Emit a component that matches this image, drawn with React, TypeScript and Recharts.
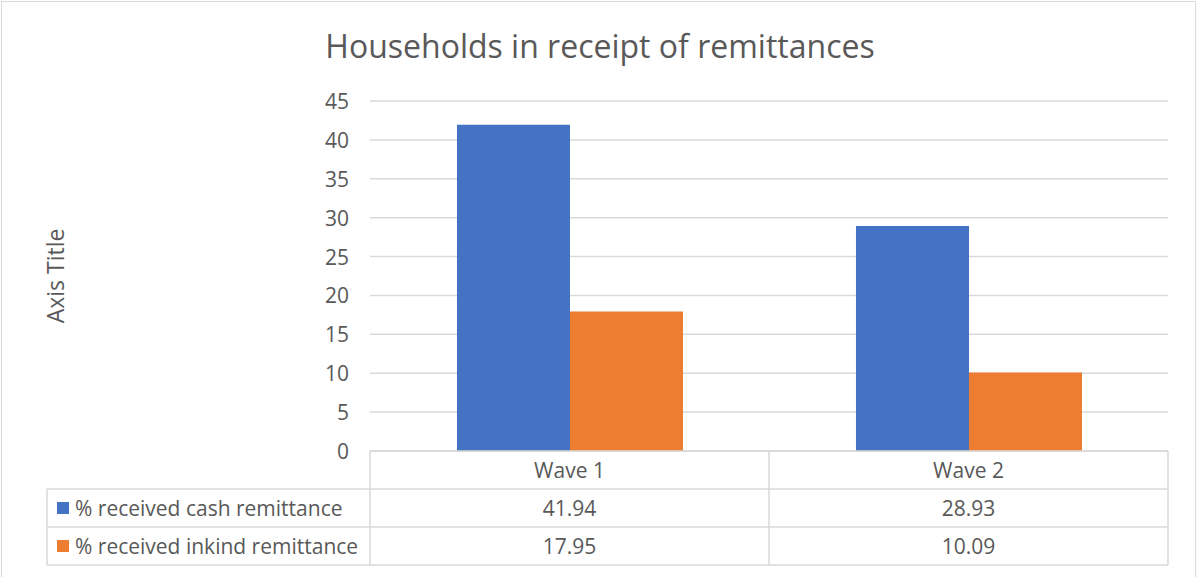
import React from 'react';
import { BarChart, Bar, XAxis, YAxis, CartesianGrid } from 'recharts';

const categories = ['Wave 1', 'Wave 2'];
const cashValues = [41.94, 28.93];
const inkindValues = [17.95, 10.09];
const seriesNames = ['% received cash remittance', '% received inkind remittance'];
const seriesColors = ['#4472C4', '#ED7D31'];
const yTicks = [0, 5, 10, 15, 20, 25, 30, 35, 40, 45];

const data = categories.map((wave, i) => ({ wave, cash: cashValues[i], inkind: inkindValues[i] }));

const W = 1197;
const H = 577;
const M = { top: 101, right: 29, bottom: 0, left: 0 };
const Y_W = 370;
const X_H = 126;
const CELL_W = (W - M.left - M.right - Y_W) / categories.length;
const ROW_H = 38;
const LEGEND_LEFT = 47;
const FONT = '"Open Sans", sans-serif';
const TXT = '#595959';
const LINE = '#d9d9d9';

const TableTick = (props: any) => {
    const { x, y, payload } = props;
    const idx = payload.index;
    const left = x - CELL_W / 2;
    const right = x + CELL_W / 2;
    const rows = [cashValues, inkindValues];
    return (
        <g fontFamily={FONT} fontSize={21} fill={TXT}>
            {idx === 0 && (
                <g>
                    <line x1={left} y1={y} x2={left} y2={y + ROW_H * 3} stroke={LINE} strokeWidth={1.5} />
                    <line x1={LEGEND_LEFT} y1={y + ROW_H} x2={LEGEND_LEFT} y2={y + ROW_H * 3} stroke={LINE} strokeWidth={1.5} />
                    {[1, 2, 3].map((r) => (
                        <line key={r} x1={LEGEND_LEFT} y1={y + ROW_H * r} x2={left} y2={y + ROW_H * r} stroke={LINE} strokeWidth={1.5} />
                    ))}
                    {seriesNames.map((name, r) => (
                        <g key={name}>
                            <rect x={LEGEND_LEFT + 10} y={y + ROW_H * (r + 1) + 13} width={12} height={12} fill={seriesColors[r]} />
                            <text x={LEGEND_LEFT + 28} y={y + ROW_H * (r + 1.5)} dominantBaseline="central" fill={TXT}>
                                {name}
                            </text>
                        </g>
                    ))}
                </g>
            )}
            <line x1={right} y1={y} x2={right} y2={y + ROW_H * 3} stroke={LINE} strokeWidth={1.5} />
            {[1, 2, 3].map((r) => (
                <line key={r} x1={left} y1={y + ROW_H * r} x2={right} y2={y + ROW_H * r} stroke={LINE} strokeWidth={1.5} />
            ))}
            <text x={x} y={y + ROW_H * 0.5} textAnchor="middle" dominantBaseline="central" fill={TXT}>
                {payload.value}
            </text>
            {rows.map((vals, r) => (
                <text key={r} x={x} y={y + ROW_H * (r + 1.5)} textAnchor="middle" dominantBaseline="central" fill={TXT}>
                    {vals[idx].toFixed(2)}
                </text>
            ))}
        </g>
    );
};

const YTick = (props: any) => {
    const { x, y, payload } = props;
    return (
        <text x={x - 21} y={y} textAnchor="end" dominantBaseline="central" fontFamily={FONT} fontSize={21} fill={TXT}>
            {payload.value}
        </text>
    );
};

const AxisTitle = (props: any) => {
    const vb = props.viewBox;
    const cy = vb.y + vb.height / 2;
    return (
        <text
            x={55}
            y={cy}
            transform={`rotate(-90 55 ${cy})`}
            textAnchor="middle"
            dominantBaseline="central"
            fontFamily={FONT}
            fontSize={23}
            fill={TXT}
        >
            Axis Title
        </text>
    );
};

export default function App() {
    return (
        <div style={{ position: 'absolute', left: 0, top: 0, width: W, height: H, overflow: 'hidden', background: '#fff' }}>
            <div
                style={{
                    position: 'absolute',
                    left: 1,
                    top: 1,
                    width: 1195,
                    height: 620,
                    boxSizing: 'border-box',
                    border: `1.5px solid ${LINE}`,
                }}
            />
            <div
                style={{
                    position: 'absolute',
                    left: 0,
                    top: 26,
                    width: 1200,
                    textAlign: 'center',
                    fontFamily: FONT,
                    fontSize: 32,
                    color: TXT,
                    lineHeight: '40px',
                }}
            >
                Households in receipt of remittances
            </div>
            <div style={{ position: 'absolute', left: 0, top: 0 }}>
                <BarChart width={W} height={H} data={data} margin={M} barCategoryGap="21.8%" barGap={0}>
                    <CartesianGrid vertical={false} stroke={LINE} strokeWidth={1.5} />
                    <XAxis
                        dataKey="wave"
                        height={X_H}
                        tickSize={0}
                        tickMargin={0}
                        tickLine={false}
                        axisLine={{ stroke: LINE, strokeWidth: 1.5 }}
                        tick={<TableTick />}
                        interval={0}
                    />
                    <YAxis
                        width={Y_W}
                        domain={[0, 45]}
                        ticks={yTicks}
                        tickSize={0}
                        tickMargin={0}
                        tickLine={false}
                        axisLine={false}
                        tick={<YTick />}
                        label={<AxisTitle />}
                    />
                    <Bar dataKey="cash" name={seriesNames[0]} fill={seriesColors[0]} isAnimationActive={false} />
                    <Bar dataKey="inkind" name={seriesNames[1]} fill={seriesColors[1]} isAnimationActive={false} />
                </BarChart>
            </div>
        </div>
    );
}
